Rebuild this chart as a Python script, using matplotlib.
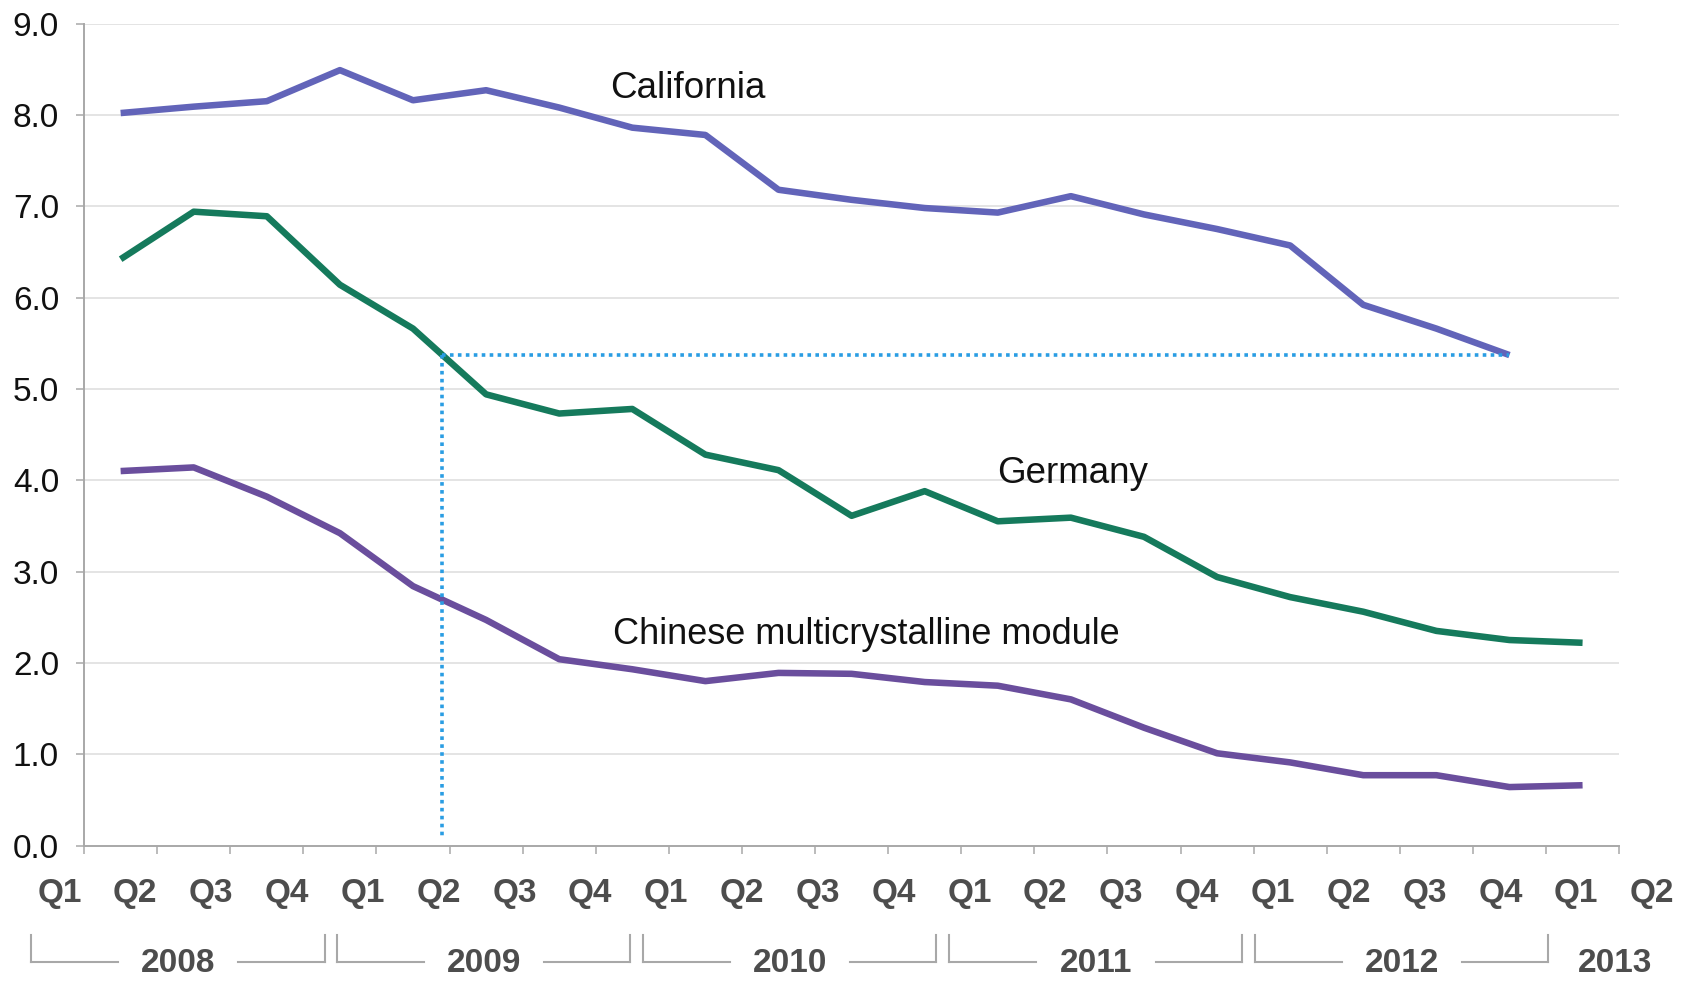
import numpy as np
import matplotlib.pyplot as plt
from matplotlib.transforms import blended_transform_factory
from matplotlib.lines import Line2D

# quarterly values, 2008 Q1 onwards
california = [8.02, 8.09, 8.15, 8.49, 8.16, 8.27, 8.08, 7.86, 7.78, 7.18,
              7.07, 6.98, 6.93, 7.11, 6.91, 6.75, 6.57, 5.92, 5.66, 5.37]
germany = [6.42, 6.94, 6.89, 6.14, 5.66, 4.94, 4.73, 4.78, 4.28, 4.11, 3.61,
           3.88, 3.55, 3.59, 3.38, 2.94, 2.72, 2.56, 2.35, 2.25, 2.22]
chinese = [4.10, 4.14, 3.82, 3.42, 2.84, 2.47, 2.04, 1.93, 1.80, 1.89, 1.88,
           1.79, 1.75, 1.60, 1.29, 1.01, 0.91, 0.77, 0.77, 0.64, 0.66]

quarters = ['Q1', 'Q2', 'Q3', 'Q4'] * 5 + ['Q1', 'Q2']
years = ['2008', '2009', '2010', '2011', '2012', '2013']
yticks = [0, 1, 2, 3, 4, 5, 6, 7, 8, 9]

C_CAL = '#6264b9'
C_GER = '#157a5c'
C_CHN = '#6a4e9d'
C_DOT = '#2a9de3'
GRAY_TXT = '#4d4d4d'
GRAY_AX = '#a8a8a8'

narrow = ['Liberation Sans Narrow', 'Liberation Sans', 'DejaVu Sans']
plain = ['Liberation Sans', 'DejaVu Sans']

fig = plt.figure(figsize=(16.85, 9.81), dpi=100)
ax = fig.add_axes([0.0499, 0.1381, 0.911, 0.8379])

ax.set_xlim(0, 21)
ax.set_ylim(0, 9)

# horizontal grid
for v in yticks[1:]:
    ax.axhline(v, color='#dcdcdc', lw=1.1, zorder=0)

lw = 4.7
ax.plot(np.arange(len(california)) + 0.5, california, color=C_CAL, lw=lw,
        solid_joinstyle='round', solid_capstyle='butt', zorder=3)
ax.plot(np.arange(len(germany)) + 0.5, germany, color=C_GER, lw=lw,
        solid_joinstyle='round', solid_capstyle='butt', zorder=3)
ax.plot(np.arange(len(chinese)) + 0.5, chinese, color=C_CHN, lw=lw,
        solid_joinstyle='round', solid_capstyle='butt', zorder=3)

# Germany reaches California's latest level
level = california[-1]
gx = np.arange(len(germany)) + 0.5
x_cross = np.interp(level, germany[::-1], gx[::-1])
x_end = len(california) - 0.5
ax.plot([x_cross, x_end], [level, level], color=C_DOT, lw=2.6,
        linestyle=(0, (1, 1.2)), zorder=4)
ax.plot([x_cross, x_cross], [level, 0.08], color=C_DOT, lw=2.6,
        linestyle=(0, (1, 1.2)), zorder=4)

ax.text(7.2, 8.29, 'California', fontsize=26.5, family=plain, va='center', color='#111111')
ax.text(12.49, 4.07, 'Germany', fontsize=26.5, family=plain, va='center', color='#111111')
ax.text(7.23, 2.31, 'Chinese multicrystalline module', fontsize=26, family=plain,
        va='center', color='#111111')

# axes styling
for s in ['top', 'right']:
    ax.spines[s].set_visible(False)
for s in ['left', 'bottom']:
    ax.spines[s].set_color(GRAY_AX)
    ax.spines[s].set_linewidth(1.4)

ax.set_yticks(yticks)
ax.set_yticklabels([f'{v:.1f}' for v in yticks], fontsize=24, family=plain, color='#111111')
ax.tick_params(axis='y', length=6, width=1.1, color=GRAY_AX, pad=12)
ax.set_xticks(np.arange(0, 22))
ax.set_xticklabels([])
ax.tick_params(axis='x', length=6, width=1.1, color=GRAY_AX)

# quarter and year labels under the axis
tr = blended_transform_factory(ax.transData, fig.transFigure)
for i, q in enumerate(quarters):
    ax.text(-0.338 + i * 1.0376, 0.0887, q, transform=tr, ha='center', va='center',
            fontsize=24, fontweight='bold', family=narrow, color=GRAY_TXT, clip_on=False)

y_top, y_bot = 0.0469, 0.0194
for k, yr in enumerate(years):
    if k < 5:
        left = -0.72 + 4.185 * k
        right = left + 4.01
        mid = (left + right) / 2
        segs = [([left, left], [y_top, y_bot]),
                ([left, mid - 0.82], [y_bot, y_bot]),
                ([mid + 0.82, right], [y_bot, y_bot]),
                ([right, right], [y_bot, y_top])]
        for xs, ys in segs:
            fig.add_artist(Line2D(xs, ys, transform=tr, color=GRAY_AX, lw=1.5))
    else:
        mid = 20.94
    ax.text(mid, 0.0175, yr, transform=tr, ha='center', va='center', fontsize=24,
            fontweight='bold', family=narrow, color=GRAY_TXT, clip_on=False)

fig.savefig('out.png', dpi=100, facecolor='white')
